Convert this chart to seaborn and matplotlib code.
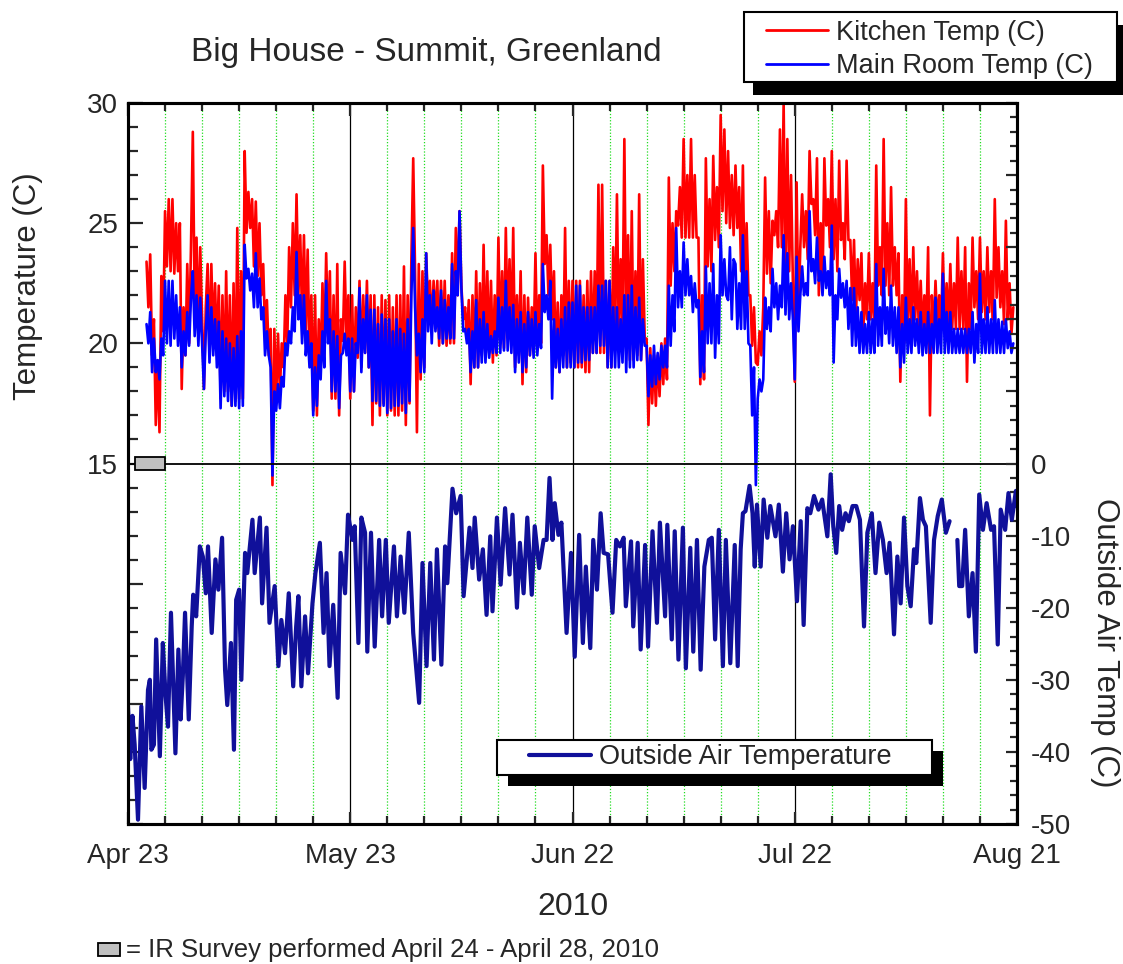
import numpy as np
import pandas as pd
import matplotlib
matplotlib.use("Agg")
import matplotlib.pyplot as plt
import seaborn as sns
from matplotlib.patches import Rectangle
from matplotlib.lines import Line2D
from matplotlib.ticker import MultipleLocator

sns.set_style("white")
plt.rcParams['font.family'] = ['Liberation Sans', 'DejaVu Sans']
plt.rcParams['axes.unicode_minus'] = False

# ---------------- data (days after Apr 23, 2010; indoor every 6 h) ----------------
indoor_start_day = 2.5
indoor_step_day = 0.25

kitchen_temp = [
    23.4, 21.5,
    23.7, 19.5, 21.0, 16.6,   19.3, 16.3, 22.8, 20.5,
    25.5, 23.2, 26.0, 23.0,   26.0, 22.9, 25.0, 23.0,
    25.0, 18.1, 21.5, 19.5,   23.3, 20.0, 24.0, 28.8,
    21.5, 24.4, 20.4, 24.0,   21.0, 18.1, 21.5, 23.3,
    19.5, 23.3, 20.2, 22.5,   19.5, 22.4, 17.7, 22.0,
    18.0, 23.0, 18.0, 22.0,   17.4, 22.5, 17.6, 24.8,
    17.7, 23.0, 17.7, 28.0,   24.6, 26.3, 24.8, 26.0,
    23.2, 25.9, 22.8, 25.0,   22.0, 23.3, 20.5, 21.8,
    19.5, 20.6, 14.1, 20.6,   17.7, 20.4, 18.0, 20.0,
    19.0, 22.0, 20.0, 24.0,   21.5, 25.0, 22.0, 26.2,
    22.0, 24.5, 21.0, 24.5,   20.5, 23.9, 19.5, 22.0,
    17.2, 22.0, 17.0, 21.0,   19.0, 22.5, 19.5, 23.75,
    20.3, 23.0, 17.7, 22.0,   17.7, 23.3, 17.0, 21.0,
    20.1, 23.4, 20.0, 22.0,   17.7, 22.0, 18.0, 21.5,
    19.4, 22.6, 19.0, 22.0,   19.6, 22.6, 19.0, 22.0,
    16.6, 22.0, 17.5, 21.5,   17.0, 22.0, 17.5, 21.8,
    17.0, 22.0, 17.2, 21.5,   17.0, 22.0, 17.0, 22.0,
    17.2, 23.2, 16.6, 22.0,   17.5, 23.5, 27.7, 23.0,
    16.3, 23.3, 18.5, 23.0,   19.0, 23.75, 21.5, 22.6,
    20.6, 22.6, 21.0, 22.6,   19.9, 22.6, 20.0, 22.6,
    19.9, 22.0, 20.0, 23.75,  20.0, 24.8, 22.0, 25.5,
    22.4, 21.0, 21.5, 20.2,   21.8, 18.3, 22.0, 19.0,
    23.0, 19.0, 22.5, 19.5,   24.1, 19.6, 23.0, 19.6,
    22.6, 19.2, 22.0, 19.5,   24.4, 20.0, 23.0, 19.8,
    24.8, 20.4, 23.5, 20.2,   24.8, 19.0, 22.0, 19.5,
    23.0, 18.3, 22.0, 18.8,   21.9, 19.5, 21.5, 19.8,
    23.75, 19.7, 22.0, 20.0,  27.4, 23.3, 24.5, 22.0,
    24.1, 21.0, 23.0, 19.0,   21.7, 18.8, 22.0, 19.5,
    24.8, 19.0, 22.6, 19.2,   22.6, 19.0, 22.6, 19.0,
    22.6, 19.0, 22.0, 18.8,   22.6, 18.8, 23.0, 19.6,
    23.0, 19.6, 26.6, 19.6,   26.6, 19.6, 22.6, 19.0,
    22.6, 19.0, 24.0, 20.2,   26.2, 20.2, 23.5, 20.5,
    28.5, 20.2, 24.5, 19.3,   25.5, 19.3, 23.0, 19.5,
    26.2, 19.3, 23.5, 20.2,   20.2, 16.6, 19.8, 17.5,
    19.5, 17.4, 19.5, 17.8,   20.0, 18.3, 20.2, 18.5,
    26.9, 22.4, 25.0, 23.0,   25.5, 24.9, 26.5, 24.4,
    28.5, 24.4, 27.0, 24.4,   28.5, 24.4, 27.0, 24.4,
    24.4, 18.3, 22.0, 18.5,   27.7, 23.2, 26.0, 23.0,
    27.8, 24.3, 26.5, 24.0,   29.5, 25.5, 28.9, 25.0,
    28.0, 24.8, 27.0, 24.5,   27.4, 24.8, 26.5, 23.0,
    27.4, 21.8, 25.0, 22.0,   22.0, 19.9, 21.5, 19.2,
    19.1, 20.5, 19.5, 21.5,   26.9, 22.9, 25.5, 22.5,
    25.1, 24.5, 25.5, 24.0,   28.9, 24.0, 30.0, 22.4,
    28.5, 23.0, 27.0, 22.5,   18.4, 26.7, 21.0, 24.0,
    26.2, 24.0, 25.5, 23.5,   28.0, 25.8, 26.0, 24.5,
    27.7, 22.0, 25.0, 22.5,   27.7, 24.9, 26.0, 24.0,
    28.0, 23.5, 26.0, 23.0,   27.6, 24.3, 25.0, 23.5,
    27.6, 24.3, 24.3, 21.8,   24.3, 21.0, 23.5, 21.8,
    23.75, 20.4, 22.5, 21.0,  23.75, 21.0, 22.5, 20.6,
    27.4, 22.4, 24.0, 22.0,   28.5, 22.4, 25.0, 22.0,
    26.5, 22.4, 24.0, 22.0,   23.75, 18.4, 22.0, 20.0,
    26.0, 20.4, 23.5, 20.6,   24.0, 21.0, 23.0, 20.6,
    22.6, 20.4, 22.0, 20.4,   24.0, 17.0, 22.0, 20.4,
    22.6, 20.7, 22.0, 20.6,   23.75, 20.6, 22.5, 20.6,
    23.3, 20.6, 22.5, 20.6,   24.4, 20.6, 23.0, 20.6,
    24.0, 18.4, 22.5, 20.6,   24.4, 21.5, 23.0, 21.0,
    24.4, 21.3, 23.0, 21.0,   24.0, 21.3, 23.0, 21.0,
    26.0, 21.9, 24.0, 21.5,   23.0, 20.8, 25.1, 21.0,
    22.5, 20.4, 21.5,
]

main_room_temp = [
    20.8, 20.0,
    21.3, 18.8, 20.2, 18.8,   19.3, 18.5, 20.2, 19.5,
    22.6, 20.0, 22.6, 19.9,   22.6, 20.2, 22.0, 19.9,
    21.5, 19.0, 20.5, 19.5,   21.3, 19.9, 21.9, 23.0,
    20.3, 22.0, 19.9, 21.9,   20.0, 18.1, 20.5, 22.0,
    19.2, 21.5, 19.5, 21.0,   19.0, 20.9, 17.3, 20.5,
    17.8, 20.2, 17.6, 20.0,   17.4, 19.8, 17.4, 20.3,
    17.3, 20.5, 17.4, 24.1,   22.7, 23.1, 22.2, 22.9,
    21.5, 23.75, 21.5, 22.7,  21.0, 21.5, 19.5, 20.5,
    19.5, 19.0, 14.5, 18.0,   17.2, 18.3, 17.3, 18.6,
    18.2, 20.0, 19.5, 20.5,   20.0, 21.5, 20.5, 23.8,
    21.0, 22.0, 20.0, 22.0,   19.5, 20.5, 19.0, 20.0,
    17.0, 19.0, 17.4, 19.5,   18.5, 20.5, 19.0, 22.6,
    20.0, 21.0, 18.0, 20.5,   18.0, 20.3, 17.3, 19.5,
    19.6, 20.4, 19.5, 20.2,   18.0, 20.2, 18.0, 20.0,
    19.6, 22.3, 18.8, 21.0,   19.6, 22.0, 19.0, 21.4,
    17.6, 21.4, 17.6, 20.8,   17.4, 21.2, 17.4, 21.0,
    17.1, 21.0, 17.3, 20.5,   17.4, 21.0, 17.4, 20.6,
    17.5, 20.4, 17.1, 21.0,   17.6, 22.0, 24.8, 21.5,
    19.5, 20.4, 18.8, 21.0,   18.8, 23.75, 20.5, 22.0,
    20.0, 22.2, 20.5, 21.5,   20.2, 22.2, 20.0, 21.8,
    20.2, 21.5, 20.2, 23.3,   20.2, 23.0, 22.0, 25.5,
    22.3, 20.5, 20.6, 20.0,   20.6, 18.8, 20.5, 19.0,
    21.8, 19.0, 21.0, 19.2,   21.3, 19.2, 20.8, 19.4,
    20.3, 19.6, 20.5, 19.6,   21.9, 19.6, 21.5, 19.7,
    22.6, 19.7, 21.5, 19.6,   21.6, 18.8, 21.0, 19.2,
    21.3, 18.8, 20.8, 19.0,   21.3, 19.5, 21.0, 19.4,
    21.3, 19.5, 20.8, 19.8,   23.3, 21.3, 22.0, 21.0,
    22.6, 17.7, 21.0, 19.0,   20.6, 18.8, 21.0, 19.0,
    21.5, 19.0, 21.7, 19.0,   21.7, 19.0, 22.4, 19.2,
    22.4, 19.2, 21.5, 19.3,   21.5, 19.3, 21.5, 19.6,
    21.5, 19.6, 22.4, 19.9,   22.4, 19.9, 22.6, 19.0,
    22.6, 19.0, 21.5, 19.0,   21.5, 19.0, 21.0, 19.2,
    22.0, 18.8, 22.0, 19.0,   22.4, 19.0, 21.5, 19.3,
    21.9, 19.3, 21.0, 19.9,   19.9, 17.8, 19.5, 18.2,
    19.9, 18.3, 19.6, 18.5,   19.9, 19.0, 19.9, 19.0,
    22.4, 19.9, 22.0, 20.5,   24.8, 21.5, 23.0, 21.5,
    24.2, 22.0, 23.5, 22.0,   22.8, 21.3, 22.5, 21.5,
    21.8, 18.6, 20.5, 18.8,   23.2, 20.0, 22.5, 20.0,
    23.3, 19.4, 22.0, 20.0,   24.5, 22.0, 23.5, 22.0,
    21.8, 24.0, 21.0, 23.5,   23.3, 20.6, 22.5, 20.6,
    24.5, 20.6, 23.0, 20.0,   19.9, 17.0, 19.0, 14.1,
    17.7, 18.5, 18.0, 18.5,   21.9, 20.6, 21.5, 20.5,
    23.1, 21.5, 22.5, 21.0,   22.4, 21.5, 24.5, 21.2,
    23.75, 21.0, 22.5, 21.0,  18.5, 23.6, 20.5, 22.0,
    23.2, 22.0, 22.5, 22.0,   25.5, 23.0, 23.5, 22.5,
    24.4, 22.6, 23.0, 22.0,   23.6, 22.3, 23.0, 22.0,
    24.9, 19.2, 22.0, 21.0,   23.1, 21.9, 22.5, 21.5,
    22.6, 20.6, 22.3, 19.9,   22.3, 19.9, 21.5, 19.6,
    21.3, 19.6, 20.8, 19.6,   21.3, 19.6, 21.0, 19.6,
    23.3, 19.9, 21.5, 19.9,   23.1, 20.4, 21.5, 20.0,
    22.4, 19.9, 21.5, 19.6,   21.5, 19.0, 20.8, 19.2,
    21.9, 19.6, 21.0, 19.6,   21.5, 19.9, 21.0, 19.6,
    21.3, 19.5, 20.8, 19.6,   21.3, 19.6, 20.8, 19.6,
    21.9, 19.6, 21.0, 19.6,   22.9, 19.6, 21.3, 19.6,
    21.3, 19.6, 20.6, 19.6,   20.6, 19.6, 20.6, 19.6,
    20.6, 19.6, 20.6, 19.6,   21.3, 19.2, 20.8, 19.6,
    22.9, 19.6, 21.0, 19.6,   21.5, 19.6, 21.0, 19.6,
    21.8, 19.6, 21.0, 19.6,   20.9, 19.6, 21.0, 19.8,
    20.5, 19.6, 20.0,
]

outside_day = [
    0.0, 0.3, 0.6, 0.9, 1.35, 1.8, 2.25, 2.7, 2.95, 3.15,
    3.5, 3.8, 4.3, 4.7, 5.05, 5.4, 5.8, 6.4, 6.8, 7.1,
    7.4, 7.7, 8.2, 8.6, 8.8, 9.2, 9.7, 10.1, 10.5, 10.8,
    11.3, 11.8, 12.2, 12.7, 13.1, 13.4, 13.9, 14.3, 14.6, 15.0,
    15.3, 15.8, 16.1, 16.8, 17.1, 17.8, 18.1, 18.7, 19.1, 19.8,
    20.3, 20.7, 21.2, 21.7, 22.3, 22.7, 23.0, 23.4, 23.9, 24.3,
    24.9, 25.3, 25.9, 26.4, 26.8, 27.2, 27.7, 28.3, 28.7, 29.3,
    29.7, 30.3, 30.6, 31.1, 31.5, 32.0, 32.3, 32.8, 33.3, 33.9,
    34.3, 34.8, 35.2, 35.9, 36.3, 36.8, 37.3, 37.9, 38.5, 39.3,
    39.75, 40.3, 40.8, 41.3, 41.7, 42.3, 42.8, 43.1, 43.8, 44.3,
    44.9, 45.3, 46.1, 46.5, 46.8, 47.4, 47.9, 48.4, 48.9, 49.2,
    49.8, 50.3, 50.9, 51.5, 51.9, 52.5, 52.9, 53.4, 53.9, 54.5,
    54.9, 55.5, 56.1, 56.5, 56.9, 57.3, 57.6, 58.1, 58.5, 59.2,
    59.8, 60.3, 60.9, 61.4, 61.8, 62.4, 62.8, 63.3, 63.8, 64.2,
    64.8, 65.4, 65.9, 66.4, 66.9, 67.2, 67.9, 68.2, 68.8, 69.2,
    69.8, 70.2, 70.8, 71.4, 71.8, 72.5, 72.8, 73.4, 73.8, 74.3,
    74.9, 75.3, 75.9, 76.3, 76.8, 77.3, 77.8, 78.4, 78.8, 79.25,
    79.75, 80.3, 80.7, 81.3, 81.9, 82.3, 82.7, 83.0, 83.35, 83.9,
    84.3, 84.6, 84.9, 85.4, 85.8, 86.3, 86.7, 87.4, 87.85, 88.4,
    88.85, 89.3, 89.75, 90.3, 90.8, 91.2, 91.7, 92.1, 92.6, 93.2,
    93.7, 94.4, 94.85, 95.2, 95.6, 96.0, 96.4, 96.85, 97.3, 97.8,
    98.3, 98.8, 99.35, 99.8, 100.4, 100.9, 101.4, 101.9, 102.4, 102.8,
    103.4, 103.85, 104.3, 104.75, 105.2, 105.65, 106.1, 106.4, 106.9, 107.3,
    107.7, 108.35, 108.8, 109.3, 109.85, 110.4, 110.9, 111.95, 112.2, 112.6,
    113.0, 113.5, 114.0, 114.45, 114.9, 115.4, 115.9, 116.5, 116.9, 117.4,
    117.8, 118.4, 118.85, 119.3, 119.85, 120.0,
]

outside_temp = [
    -33.7, -41.0, -35.0, -39.0, -49.4, -33.7, -45.0, -31.4, -30.0, -39.7,
    -39.0, -24.4, -40.6, -24.9, -31.9, -36.5, -20.7, -40.2, -25.8, -35.5,
    -29.5, -20.7, -35.5, -22.6, -18.2, -21.2, -11.5, -12.9, -18.0, -11.5,
    -23.5, -13.3, -17.5, -10.3, -28.6, -33.5, -24.9, -39.7, -18.9, -17.5,
    -30.0, -12.4, -15.2, -7.8, -15.2, -7.5, -19.4, -8.9, -22.1, -17.0,
    -28.1, -21.7, -26.3, -18.0, -30.9, -22.6, -18.4, -30.9, -21.2, -29.1,
    -19.4, -15.2, -11.0, -23.5, -15.2, -28.1, -19.6, -32.5, -12.4, -18.0,
    -7.1, -10.6, -8.7, -24.9, -7.5, -9.6, -26.1, -9.6, -25.4, -10.6,
    -21.2, -10.6, -22.1, -11.5, -21.2, -12.9, -20.7, -9.6, -23.5, -33.2,
    -13.8, -28.1, -13.8, -27.2, -11.9, -27.9, -11.5, -16.6, -3.5, -6.9,
    -4.5, -18.4, -8.9, -14.5, -7.5, -16.1, -11.9, -21.0, -10.1, -20.5,
    -7.5, -16.8, -6.2, -15.4, -7.1, -20.0, -11.0, -18.0, -7.5, -18.2,
    -8.7, -14.5, -10.6, -10.6, -2.0, -10.6, -5.5, -9.9, -8.2, -23.5,
    -12.4, -26.8, -9.9, -24.9, -14.3, -25.6, -10.6, -17.5, -6.9, -12.4,
    -12.6, -20.7, -10.6, -11.5, -10.3, -19.8, -10.8, -22.6, -11.0, -25.8,
    -11.3, -25.4, -9.4, -22.1, -8.2, -21.2, -8.5, -24.4, -9.4, -27.2,
    -8.9, -28.4, -11.7, -26.1, -10.6, -28.6, -14.3, -10.6, -10.3, -24.4,
    -9.2, -28.1, -10.6, -27.7, -11.3, -28.1, -11.9, -6.9, -6.6, -3.1,
    -6.9, -14.3, -5.7, -14.3, -5.0, -10.3, -5.9, -10.1, -5.7, -15.0,
    -6.9, -13.3, -8.7, -19.1, -8.0, -22.4, -6.2, -6.9, -4.5, -6.4,
    -5.0, -10.1, -1.5, -8.7, -12.4, -5.9, -9.2, -6.9, -8.0, -5.9,
    -5.9, -7.8, -22.6, -9.6, -6.9, -15.2, -8.2, -10.6, -15.2, -11.0,
    -23.7, -12.9, -19.4, -7.5, -17.0, -19.8, -11.9, -13.8, -4.8, -7.8,
    -8.7, -22.1, -10.6, -7.3, -5.0, -9.6, -8.0, -10.6, -17.0, -17.0,
    -9.2, -21.2, -15.2, -26.1, -4.3, -9.2, -5.5, -9.2, -8.7, -25.1,
    -6.4, -9.2, -4.1, -7.8, -3.8, -5.9,
]
outside_gap_day = 111.4   # logger gap

x_tick_days = [0, 30, 60, 90, 120]
x_tick_labels = ['Apr 23', 'May 23', 'Jun 22', 'Jul 22', 'Aug 21']
ir_survey_days = (1, 5)   # April 24 - April 28

# ---------------- frames ----------------
n_in = min(len(kitchen_temp), len(main_room_temp))
in_days = indoor_start_day + indoor_step_day * np.arange(n_in)
df_in = pd.concat([
    pd.DataFrame({'day': in_days, 'temp': kitchen_temp[:n_in], 'series': 'Kitchen Temp (C)'}),
    pd.DataFrame({'day': in_days, 'temp': main_room_temp[:n_in], 'series': 'Main Room Temp (C)'}),
], ignore_index=True)
n_out = min(len(outside_day), len(outside_temp))
df_out = pd.DataFrame({'day': outside_day[:n_out], 'temp': outside_temp[:n_out]})
df_out['seg'] = (df_out['day'] > outside_gap_day).astype(int)

RED = '#ff0000'
BLUE = '#0000ff'
NAVY = '#10109a'
W, H = 1123, 964


def fx(px):
    return px / W


def fy(py):
    return 1 - py / H


# ---------------- figure ----------------
fig = plt.figure(figsize=(11.23, 9.64), dpi=100)
ax = fig.add_axes([fx(128), fy(824), 889 / W, 721 / H])
ax2 = ax.twinx()

for d in range(5, 120, 5):
    if d % 30 == 0:
        ax.axvline(d, color='black', lw=0.9, zorder=0.5)
    else:
        ax.axvline(d, color='#22dd22', lw=0.9, ls=(0, (1, 1.5)), zorder=0.5)

sns.lineplot(data=df_in, x='day', y='temp', hue='series',
             palette={'Kitchen Temp (C)': RED, 'Main Room Temp (C)': BLUE},
             estimator=None, sort=False, linewidth=1.9, legend=False, ax=ax)
sns.lineplot(data=df_out, x='day', y='temp', units='seg', estimator=None,
             sort=False, color=NAVY, linewidth=3.0, legend=False, ax=ax2)

ax.axhline(15, color='black', lw=1.3, zorder=3)
ax.add_patch(Rectangle((ir_survey_days[0], 14.75), ir_survey_days[1] - ir_survey_days[0], 0.5,
                       facecolor='#c0c0c0', edgecolor='black', lw=1.3, zorder=4, clip_on=False))

ax.set_xlim(0, 120)
ax.set_xticks(x_tick_days)
ax.set_xticklabels(x_tick_labels)
ax.xaxis.set_minor_locator(MultipleLocator(5))
ax.set_ylim(0, 30)
yt = list(range(0, 31, 5))
ax.set_yticks(yt)
ax.set_yticklabels([str(v) if v >= 15 else '' for v in yt])
ax.yaxis.set_minor_locator(MultipleLocator(1))

ax2.set_ylim(-50, 50)
yt2 = list(range(-50, 51, 10))
ax2.set_yticks(yt2)
ax2.set_yticklabels([str(v) if v <= 0 else '' for v in yt2])
ax2.yaxis.set_minor_locator(MultipleLocator(2))

ax.tick_params(axis='x', which='both', direction='in', top=True, bottom=True,
               labelsize=20, pad=14, width=1.6)
ax.tick_params(axis='x', which='major', length=9)
ax.tick_params(axis='x', which='minor', length=5.5)
ax.tick_params(axis='y', which='both', direction='in', left=True, right=False,
               labelsize=20, pad=7, width=1.6)
ax.tick_params(axis='y', which='major', length=10.5)
ax.tick_params(axis='y', which='minor', length=7)
ax2.tick_params(axis='y', which='both', direction='in', right=True, left=False,
                labelsize=20, pad=10, width=1.6)
ax2.tick_params(axis='y', which='major', length=8)
ax2.tick_params(axis='y', which='minor', length=5)

for a in (ax, ax2):
    for s in a.spines.values():
        s.set_linewidth(2.2)
        s.set_color('black')

ax.set_xlabel('2010', fontsize=23)
ax.xaxis.set_label_coords((573 - 128) / 889, (824 - 907) / 721)
ax.xaxis.label.set_va('center')
ax.set_ylabel('Temperature (C)', fontsize=22.5)
ax.yaxis.set_label_coords((28 - 128) / 889, (824 - 286) / 721)
ax.yaxis.label.set_va('center')
ax2.set_ylabel('Outside Air Temp (C)', fontsize=22.5, rotation=-90)
ax2.yaxis.set_label_coords((1105 - 128) / 889, (824 - 643) / 721)
ax2.yaxis.label.set_va('center')
ax2.yaxis.label.set_ha('center')

fig.text(fx(426), fy(53), 'Big House - Summit, Greenland', fontsize=24,
         ha='center', va='center')

fig.patches.append(Rectangle((fx(98), fy(956)), 22 / W, 13 / H,
                             transform=fig.transFigure, facecolor='#c0c0c0',
                             edgecolor='black', lw=1.3))
fig.text(fx(126), fy(950), '= IR Survey performed April 24 - April 28, 2010',
         fontsize=18.5, ha='left', va='center')

# ---------------- legends (content) ----------------
h_k = Line2D([], [], color=RED, lw=2.0)
h_m = Line2D([], [], color=BLUE, lw=2.0)
h_o = Line2D([], [], color=NAVY, lw=3.0)
common = dict(frameon=False, fontsize=19.5, handletextpad=0.28, borderaxespad=0,
              borderpad=0, handlelength=2.3,
              bbox_transform=fig.transFigure, loc='center left')
leg1 = ax2.legend([h_k, h_m], ['Kitchen Temp (C)', 'Main Room Temp (C)'],
                  bbox_to_anchor=(fx(766), fy(49.5)), labelspacing=0.28, **common)
ax2.add_artist(leg1)
leg2 = ax2.legend([h_o], ['Outside Air Temperature'],
                  bbox_to_anchor=(fx(529), fy(757.5)), **common)

# legend frames with solid offset shadows
for (x0, y0, x1, y1, dx, dy) in ((744, 12, 1117, 82, 9, 13), (497, 740, 932, 775, 11, 11)):
    ax2.add_artist(Rectangle((fx(x0 + dx), fy(y1 + dy)), (x1 - x0) / W, (y1 - y0) / H,
                             transform=fig.transFigure, facecolor='black', edgecolor='none',
                             zorder=4.4, clip_on=False))
    ax2.add_artist(Rectangle((fx(x0), fy(y1)), (x1 - x0) / W, (y1 - y0) / H,
                             transform=fig.transFigure, facecolor='white', edgecolor='black',
                             lw=1.5, zorder=4.6, clip_on=False))

fig.savefig('out.png', dpi=100)
